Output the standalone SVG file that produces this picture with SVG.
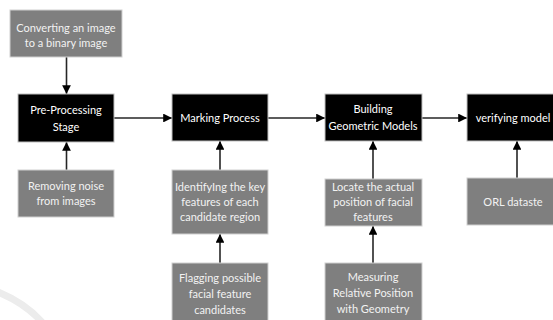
<svg xmlns="http://www.w3.org/2000/svg" width="553" height="320" viewBox="0 0 553 320">
<defs>
<style>
.g rect{fill:#7f7f7f;stroke:#d0d0d0;stroke-width:1}
.b rect{fill:#000;stroke:#bfbfbf;stroke-width:1}
text{font-family:Lato,"Liberation Sans",sans-serif;font-size:11px;text-anchor:middle}
.g text{fill:#f2f2f2}
.b text{fill:#fff}
.c line{stroke:#262626;stroke-width:1.6;marker-end:url(#ah)}
</style>
<marker id="ah" viewBox="0 0 10 10" refX="10" refY="5" markerWidth="5.5" markerHeight="5.5" orient="auto" markerUnits="strokeWidth">
<path d="M0,0 L10,5 L0,10 z" fill="#000"/>
</marker>
</defs>
<rect width="553" height="320" fill="#fff"/>
<path d="M-2,292 Q25,303 42,322" fill="none" stroke="#ececec" stroke-width="7"/>
<g class="c">
<line x1="66.5" y1="57" x2="66.5" y2="94"/>
<line x1="66.5" y1="170" x2="66.5" y2="142"/>
<line x1="114" y1="118" x2="172" y2="118"/>
<line x1="268" y1="118" x2="325" y2="118"/>
<line x1="422" y1="118" x2="467" y2="118"/>
<line x1="220" y1="170" x2="220" y2="141"/>
<line x1="220" y1="263" x2="220" y2="234"/>
<line x1="373" y1="179" x2="373" y2="141"/>
<line x1="373" y1="263" x2="373" y2="226"/>
<line x1="517" y1="178" x2="517" y2="141"/>
</g>
<g id="convert" class="g"><rect x="10" y="10" width="112" height="47"/><text x="66" y="32">Converting an image</text><text x="66" y="47">to a binary image</text></g>
<g id="preproc" class="b"><rect x="18" y="94" width="96" height="48"/><text x="66" y="114">Pre-Processing</text><text x="66" y="131">Stage</text></g>
<g id="removing" class="g"><rect x="18" y="170" width="96" height="47"/><text x="66" y="190">Removing noise</text><text x="66" y="205">from images</text></g>
<g id="marking" class="b"><rect x="172" y="94" width="96" height="47"/><text x="220" y="122">Marking Process</text></g>
<g id="identify" class="g"><rect x="172" y="170" width="96" height="64"/><text x="220" y="191">IdentifyIng the key</text><text x="220" y="206">features of each</text><text x="220" y="221">candidate region</text></g>
<g id="flagging" class="g"><rect x="172" y="263" width="96" height="62"/><text x="220" y="282">Flagging possible</text><text x="220" y="298">facial feature</text><text x="220" y="314">candidates</text></g>
<g id="building" class="b"><rect x="325" y="94" width="97" height="47"/><text x="373" y="113">Building</text><text x="373" y="130">Geometric Models</text></g>
<g id="locate" class="g"><rect x="325" y="179" width="97" height="47"/><text x="373" y="191">Locate the actual</text><text x="373" y="206">position of facial</text><text x="373" y="221">features</text></g>
<g id="measuring" class="g"><rect x="325" y="263" width="97" height="62"/><text x="373" y="281">Measuring</text><text x="373" y="297">Relative Position</text><text x="373" y="313">with Geometry</text></g>
<g id="verifying" class="b"><rect x="467" y="94" width="100" height="47"/><text x="513" y="122">verifying model</text></g>
<g id="orl" class="g"><rect x="467" y="178" width="100" height="47"/><text x="513" y="206">ORL dataste</text></g>
</svg>
